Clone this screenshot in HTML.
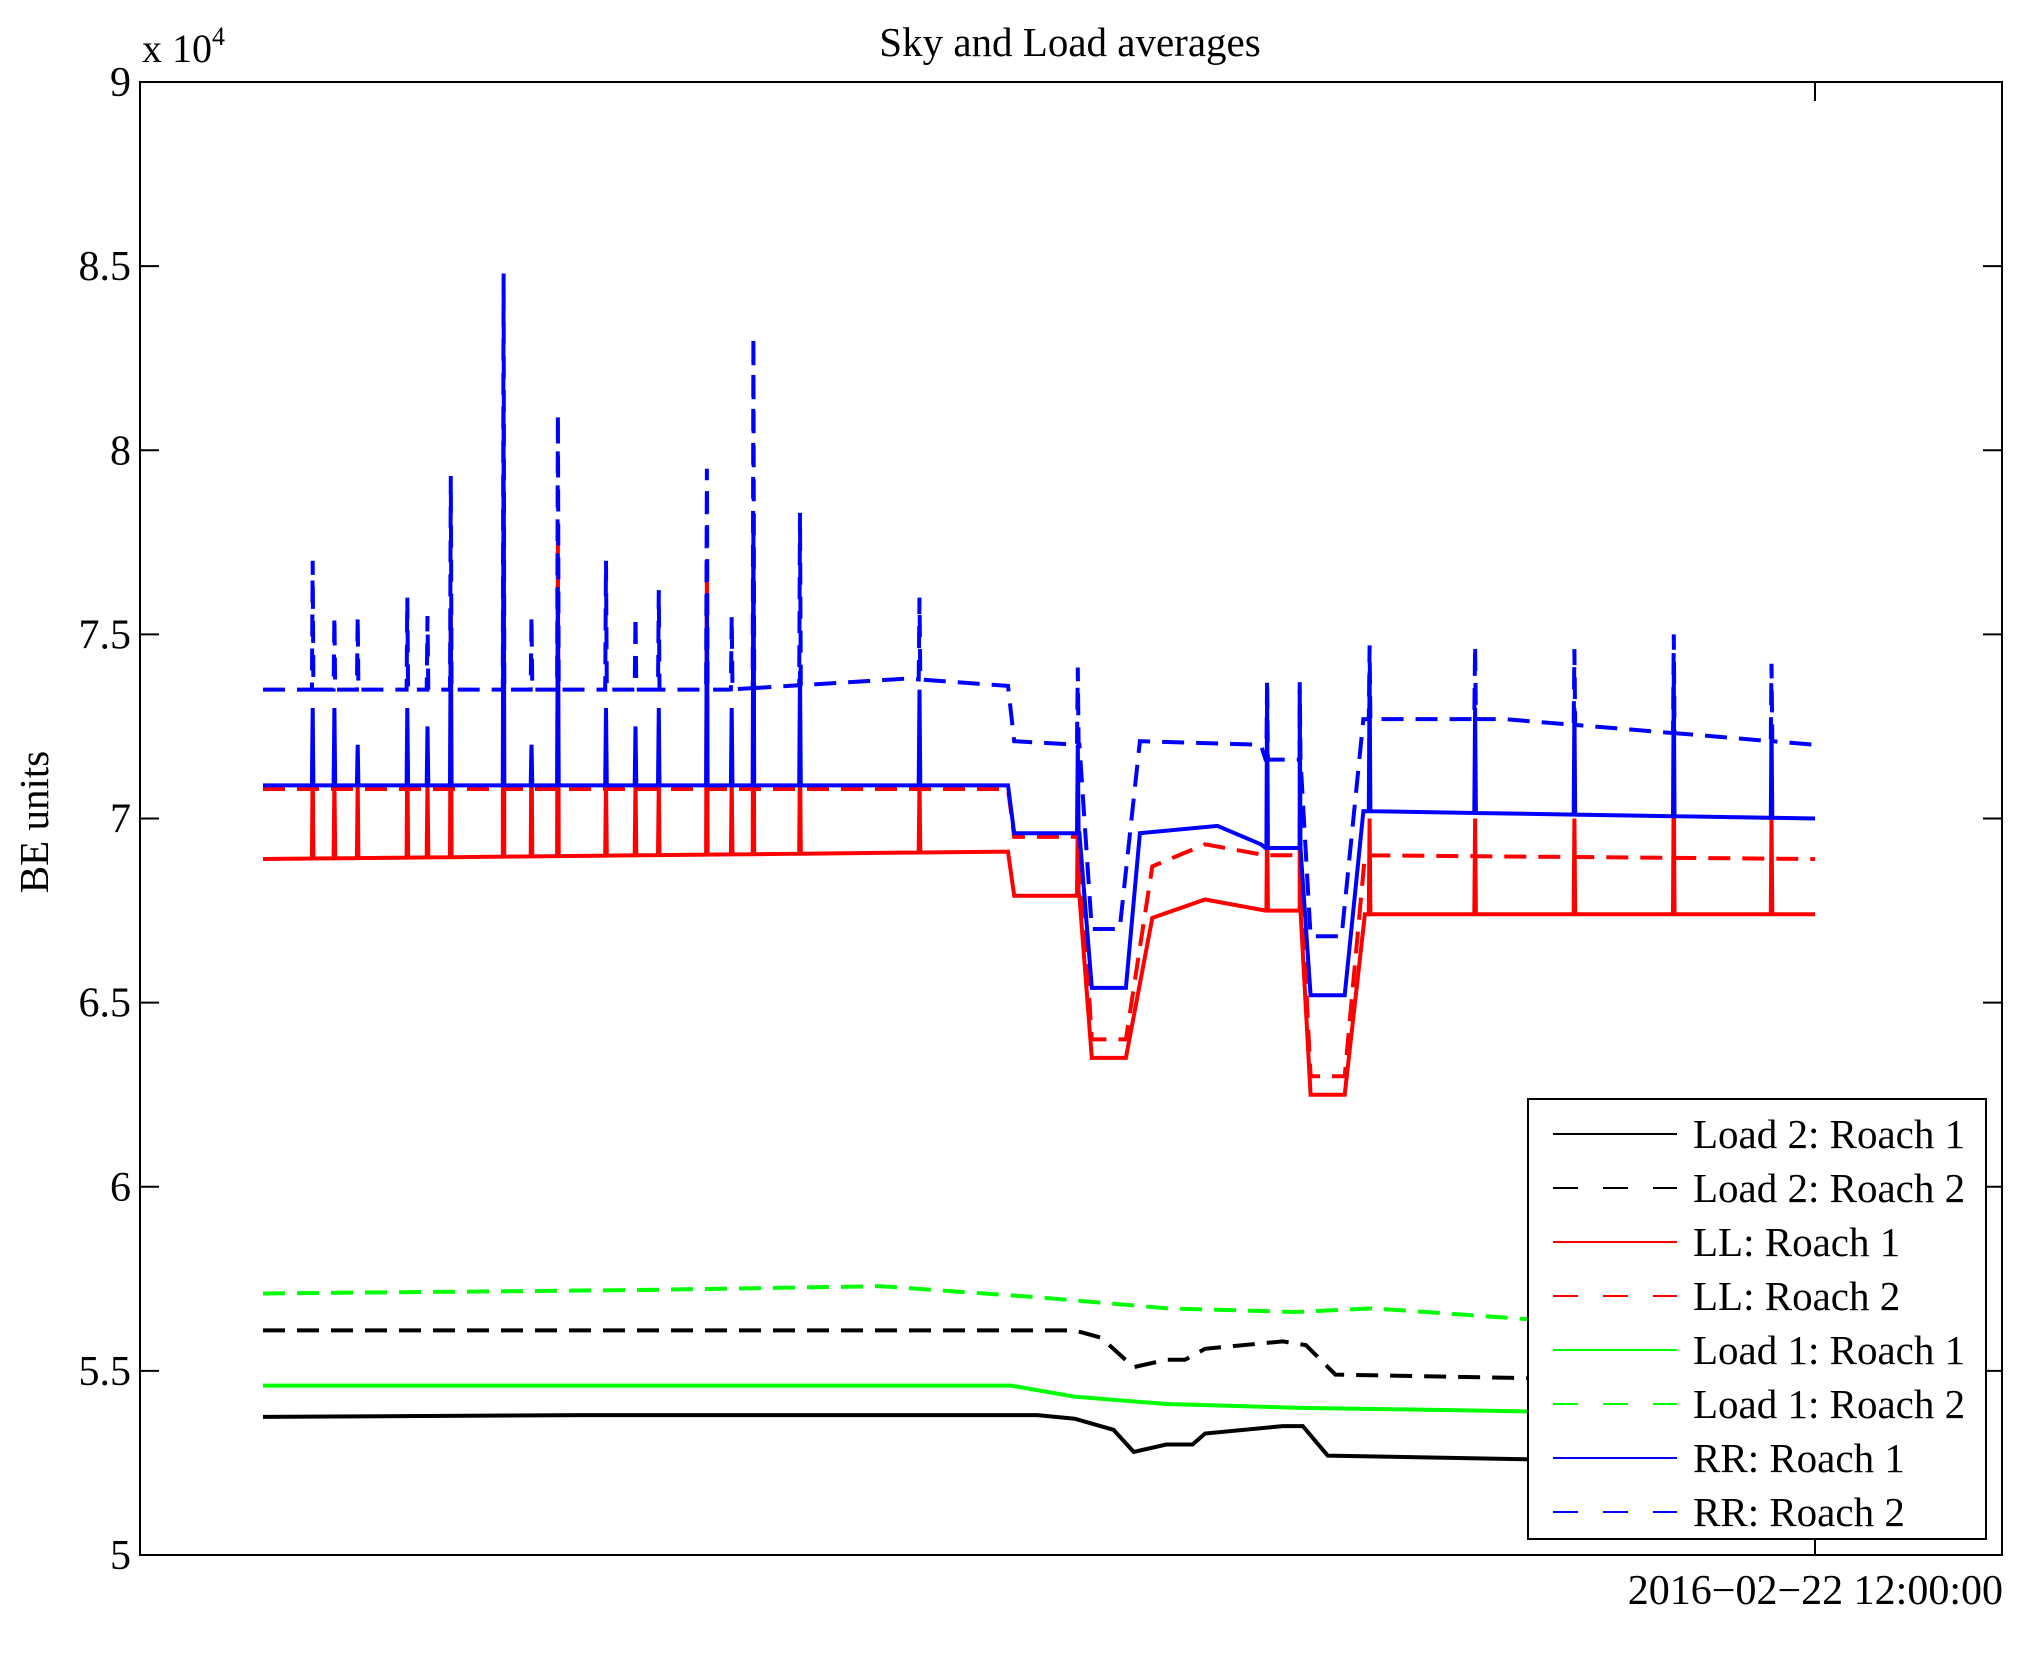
<!DOCTYPE html>
<html><head><meta charset="utf-8"><style>
html,body{margin:0;padding:0;background:#fff;}
svg{display:block;font-family:"Liberation Serif",serif;}
</style></head><body>
<svg id="chart" width="2029" height="1679" viewBox="0 0 2029 1679" xmlns="http://www.w3.org/2000/svg">
<rect x="0" y="0" width="2029" height="1679" fill="#fff"/>
<text x="1070" y="56" font-size="41" text-anchor="middle">Sky and Load averages</text>
<text transform="translate(48,822) rotate(-90)" font-size="41" text-anchor="middle">BE units</text>
<text x="142" y="62" font-size="40">x 10<tspan dy="-17" font-size="26">4</tspan></text>
<g id="plot"></g>
<g id="axes"></g>
<g id="legend"></g>
</svg>
<script>
// ---- data (time index 0..100, values in units of 1e4) ----
const yTicks = [5, 5.5, 6, 6.5, 7, 7.5, 8, 8.5, 9];
const yTickLabels = ["5","5.5","6","6.5","7","7.5","8","8.5","9"];
const xTickT = [100];
const xTickLabels = ["2016\u221202\u221222 12:00:00"];

const rr2T = [0, 30, 41.5, 48.0, 48.4, 52.6, 53.4, 55.2, 56.5, 64.3, 64.6, 66.8, 67.5, 69.5, 70.9, 80, 100];
const rr2V = [7.35, 7.35, 7.38, 7.36, 7.21, 7.20, 6.70, 6.70, 7.21, 7.20, 7.16, 7.16, 6.68, 6.68, 7.27, 7.27, 7.20];
const rr1T = [0, 48.0, 48.4, 52.6, 53.4, 55.6, 56.5, 61.5, 64.3, 64.6, 66.8, 67.5, 69.7, 70.9, 100];
const rr1V = [7.09, 7.09, 6.96, 6.96, 6.54, 6.54, 6.96, 6.98, 6.93, 6.92, 6.92, 6.52, 6.52, 7.02, 7.00];
const ll2T = [0, 48.0, 48.4, 52.6, 53.4, 55.6, 57.3, 60.7, 64.6, 66.8, 67.5, 69.7, 71.0, 100];
const ll2V = [7.08, 7.08, 6.95, 6.95, 6.40, 6.40, 6.87, 6.93, 6.90, 6.90, 6.30, 6.30, 6.90, 6.89];
const ll1T = [0, 48.0, 48.4, 52.6, 53.4, 55.6, 57.3, 60.7, 64.6, 66.8, 67.5, 69.7, 71.0, 100];
const ll1V = [6.89, 6.91, 6.79, 6.79, 6.35, 6.35, 6.73, 6.78, 6.75, 6.75, 6.25, 6.25, 6.74, 6.74];
const g2T = [0, 24.8, 39.8, 49.9, 58.2, 66.5, 71.5, 81.6, 100];
const g2V = [5.71, 5.72, 5.73, 5.70, 5.67, 5.66, 5.67, 5.64, 5.63];
const k2T = [0, 52.3, 54.0, 56.1, 58.2, 59.4, 60.7, 65.7, 67.2, 69.1, 81.6, 100];
const k2V = [5.61, 5.61, 5.59, 5.51, 5.53, 5.53, 5.56, 5.58, 5.57, 5.49, 5.48, 5.47];
const g1T = [0, 48.2, 52.3, 58.2, 66.5, 81.6, 100];
const g1V = [5.46, 5.46, 5.43, 5.41, 5.40, 5.39, 5.38];
const k1T = [0, 20.6, 49.9, 52.3, 54.8, 56.1, 58.2, 59.9, 60.7, 65.7, 67.0, 68.6, 81.6, 100];
const k1V = [5.375, 5.38, 5.38, 5.37, 5.34, 5.28, 5.30, 5.30, 5.33, 5.35, 5.35, 5.27, 5.26, 5.26];

const spikeT =   [3.2, 4.6, 6.1, 9.3, 10.6, 12.1, 15.5, 17.3, 19.0, 22.1, 24.0, 25.5, 28.6, 30.2, 31.6, 34.6, 42.3, 52.5, 64.7, 66.8, 71.3, 78.1, 84.5, 90.9, 97.2];
const rr2Peak =  [7.70, 7.55, 7.55, 7.60, 7.55, 7.93, 8.48, 7.55, 8.10, 7.70, 7.55, 7.62, 7.95, 7.55, 8.31, 7.83, 7.60, 7.41, 7.38, 7.37, 7.47, 7.47, 7.46, 7.50, 7.42];
const rr1Peak =  [7.30, 7.30, 7.20, 7.30, 7.25, 7.55, 7.90, 7.20, 7.60, 7.30, 7.25, 7.30, 7.60, 7.30, 7.80, 7.40, 7.35, 7.20, 7.35, 7.35, 7.40, 7.30, 7.30, 7.40, 7.25];
const ll1Peak =  [7.15, 7.10, 7.10, 7.20, 7.10, 7.55, 8.12, 7.20, 7.75, 7.10, 7.10, 7.10, 7.70, 7.10, 7.70, 7.20, 7.10, 7.00, 7.00, 7.00, 7.00, 7.00, 7.00, 7.15, 7.00];

// ---- axes geometry ----
const L = 140, R = 2002, T = 82, B = 1555;
const X0 = 263, X1 = 1815;
const sx = t => X0 + (t - 0) / (100 - 0) * (X1 - X0);
const sy = v => B - (v - 5) / (9 - 5) * (B - T);
const NS = "http://www.w3.org/2000/svg";
const plot = document.getElementById('plot');
const axes = document.getElementById('axes');
const legend = document.getElementById('legend');

function mk(tag, attrs, parent) {
  const e = document.createElementNS(NS, tag);
  for (const k in attrs) e.setAttribute(k, attrs[k]);
  parent.appendChild(e);
  return e;
}
function interp(ts, vs, t) {
  for (let i = 0; i < ts.length - 1; i++) {
    if (t >= ts[i] && t <= ts[i + 1]) return vs[i] + (vs[i + 1] - vs[i]) * (t - ts[i]) / (ts[i + 1] - ts[i]);
  }
  return vs[vs.length - 1];
}
function drawSeries(name, ts, vs, color, dashed, peaks) {
  const pts = [];
  let all = ts.map((t, i) => ({t: t, v: vs[i]}));
  if (peaks) {
    spikeT.forEach((t, i) => {
      const base = interp(ts, vs, t);
      all.push({t: t - 0.05, v: base});
      all.push({t: t, v: peaks[i]});
      all.push({t: t + 0.05, v: base});
    });
    all.sort((a, b) => a.t - b.t);
  }
  all.forEach(p => pts.push(sx(p.t).toFixed(1) + ',' + sy(p.v).toFixed(1)));
  const pl = mk('polyline', {points: pts.join(' '), fill: 'none', stroke: color, 'stroke-width': 4, 'stroke-linejoin': 'miter'}, plot);
  if (dashed) pl.setAttribute('stroke-dasharray', '22 12');
  
  
}
drawSeries('series-load2-roach1', k1T, k1V, '#000', false, null);
drawSeries('series-load2-roach2', k2T, k2V, '#000', true, null);
drawSeries('series-load1-roach1', g1T, g1V, '#00ff00', false, null);
drawSeries('series-load1-roach2', g2T, g2V, '#00ff00', true, null);
drawSeries('series-ll-roach1', ll1T, ll1V, '#ff0000', false, ll1Peak);
drawSeries('series-ll-roach2', ll2T, ll2V, '#ff0000', true, null);
drawSeries('series-rr-roach1', rr1T, rr1V, '#0000ff', false, rr1Peak);
drawSeries('series-rr-roach2', rr2T, rr2V, '#0000ff', true, rr2Peak);

// axes box
const box = mk('rect', {x: L, y: T, width: R - L, height: B - T, fill: 'none', stroke: '#000', 'stroke-width': 2}, axes);


yTicks.forEach((v, i) => {
  const y = sy(v);
  const t1 = mk('line', {x1: L, y1: y, x2: L + 19, y2: y, stroke: '#000', 'stroke-width': 2}, axes);
  
  
  const t2 = mk('line', {x1: R, y1: y, x2: R - 19, y2: y, stroke: '#000', 'stroke-width': 2}, axes);
  
  
  const lb = mk('text', {x: L - 9, y: y + 14, 'font-size': 42, 'text-anchor': 'end'}, axes);
  lb.textContent = yTickLabels[i];
  
  
});
xTickT.forEach((t, i) => {
  const x = sx(t);
  const a = mk('line', {x1: x, y1: B, x2: x, y2: B - 19, stroke: '#000', 'stroke-width': 2}, axes);
  
  
  const b = mk('line', {x1: x, y1: T, x2: x, y2: T + 19, stroke: '#000', 'stroke-width': 2}, axes);
  
  
  const lb = mk('text', {x: R + 1, y: 1604, 'font-size': 42, 'text-anchor': 'end'}, axes);
  lb.textContent = xTickLabels[i];
  
  
});

// legend
const legNames = ["Load 2: Roach 1","Load 2: Roach 2","LL: Roach 1","LL: Roach 2","Load 1: Roach 1","Load 1: Roach 2","RR: Roach 1","RR: Roach 2"];
const legColors = ["#000","#000","#ff0000","#ff0000","#00ff00","#00ff00","#0000ff","#0000ff"];
const legDashed = [false,true,false,true,false,true,false,true];
const lb = mk('rect', {x: 1528, y: 1099, width: 458, height: 440, fill: '#fff', stroke: '#000', 'stroke-width': 2}, legend);


legNames.forEach((n, i) => {
  const y = 1134 + i * 54;
  const g = mk('g', {}, legend);
  
  
  const ln = mk('line', {x1: 1553, y1: y, x2: 1677, y2: y, stroke: legColors[i], 'stroke-width': 2}, g);
  if (legDashed[i]) ln.setAttribute('stroke-dasharray', '25 25');
  
  
  const tx = mk('text', {x: 1693, y: y + 14, 'font-size': 41}, g);
  tx.textContent = n;
  
  
});
</script>
</body></html>
